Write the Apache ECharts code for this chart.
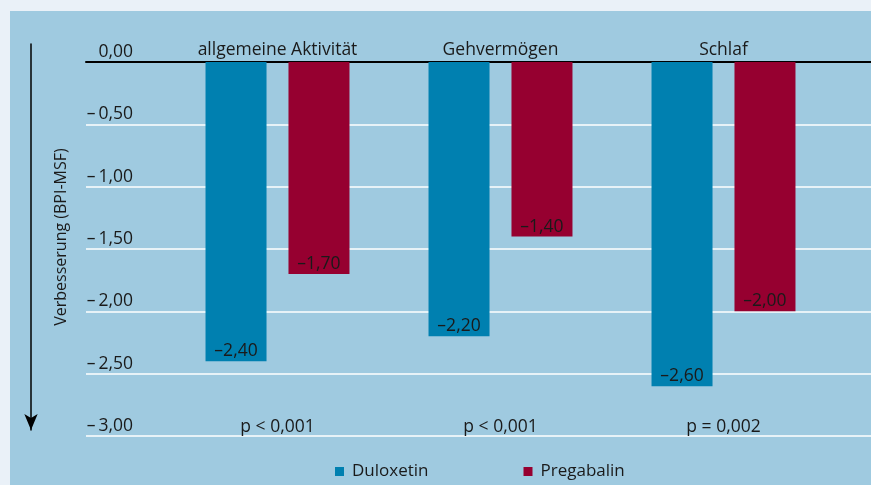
<!DOCTYPE html>
<html><head><meta charset="utf-8">
<script src="https://cdn.jsdelivr.net/npm/echarts@6/dist/echarts.min.js"></script>
<style>html,body{margin:0;padding:0;background:#eaf1f8}#c{width:871px;height:485px}</style>
</head><body><div id="c"></div>
<script>
const categories = ['allgemeine Aktivität', 'Gehvermögen', 'Schlaf'];
const pValues = ['p < 0,001', 'p < 0,001', 'p = 0,002'];
const duloxetin = [-2.40, -2.20, -2.60];
const pregabalin = [-1.70, -1.40, -2.00];
const yTicks = [0, -0.5, -1, -1.5, -2, -2.5, -3];

const FONT = 'Open Sans';
const TXT = '#1a1a1a';
const FS = 17.5;
function fmt(v){ const s = Math.abs(v).toFixed(2).replace('.', ','); return v < 0 ? '\u2013\u2009' + s : s; }
function fmtLabel(v){ return '\u2013' + Math.abs(v).toFixed(2).replace('.', ','); }

const chart = echarts.init(document.getElementById('c'));
chart.setOption({
  backgroundColor: '#eaf1f8',
  textStyle: { fontFamily: FONT },
  graphic: [{ type: 'rect', z: -10, shape: { x: 10, y: 11, width: 861, height: 474 }, style: { fill: '#9fcae0' }, silent: true }],
  grid: [
    { left: 86, right: 0, top: 62, bottom: 49 },
    { left: 166, width: 669, top: 62, bottom: 49 },
    { left: 31, width: 0, top: 44, bottom: 55 }
  ],
  xAxis: [
    { gridIndex: 0, type: 'value', min: 0, max: 1, position: 'top',
      axisLine: { show: true, onZero: false, lineStyle: { color: '#000', width: 2 } },
      axisTick: { show: false }, axisLabel: { show: false }, splitLine: { show: false } },
    { gridIndex: 1, type: 'category', data: categories, position: 'top',
      axisLine: { show: false }, axisTick: { show: false },
      axisLabel: { margin: 3, color: TXT, fontSize: FS, fontFamily: FONT } },
    { gridIndex: 1, type: 'category', data: pValues, position: 'bottom',
      axisLine: { show: false }, axisTick: { show: false },
      axisLabel: { inside: true, margin: 0, color: TXT, fontSize: FS, fontFamily: FONT } },
    { gridIndex: 2, type: 'value', show: false }
  ],
  yAxis: [
    { gridIndex: 0, type: 'value', min: -3, max: 0, interval: 0.5,
      axisLine: { show: false }, axisTick: { show: false },
      axisLabel: { inside: true, align: 'right', margin: 47, verticalAlign: 'bottom', padding: [0,0,1,0],
        color: TXT, fontSize: FS, fontFamily: FONT, formatter: v => fmt(v) },
      splitLine: { show: true, lineStyle: { color: '#ffffff', width: 1.5 } } },
    { gridIndex: 1, type: 'value', min: -3, max: 0, interval: 0.5, show: false },
    { gridIndex: 2, type: 'value', min: 0, max: 1,
      name: 'Verbesserung (BPI-MSF)', nameLocation: 'middle', nameGap: -38, nameRotate: 90,
      nameTextStyle: { color: TXT, fontSize: 16, fontFamily: FONT },
      axisLine: { show: true, symbol: ['arrow', 'none'], symbolSize: [10, 16], lineStyle: { color: '#000', width: 1.5 } },
      axisTick: { show: false }, axisLabel: { show: false }, splitLine: { show: false } }
  ],
  legend: {
    left: 330, top: 458, itemWidth: 9, itemHeight: 9, itemGap: 95, icon: 'rect',
    textStyle: { color: TXT, fontSize: 17, fontFamily: FONT, padding: [0,0,0,3] },
    data: ['Duloxetin', 'Pregabalin']
  },
  series: [
    { name: 'Duloxetin', type: 'bar', xAxisIndex: 1, yAxisIndex: 1, data: duloxetin,
      barWidth: 61, barGap: '36%', itemStyle: { color: '#0080b0' },
      label: { show: true, position: 'insideBottom', distance: 1, color: TXT, fontSize: FS, fontFamily: FONT, formatter: p => fmtLabel(p.value) } },
    { name: 'Pregabalin', type: 'bar', xAxisIndex: 1, yAxisIndex: 1, data: pregabalin,
      barWidth: 61, barGap: '36%', itemStyle: { color: '#960030' },
      label: { show: true, position: 'insideBottom', distance: 1, color: TXT, fontSize: FS, fontFamily: FONT, formatter: p => fmtLabel(p.value) } }
  ]
});
</script></body></html>
